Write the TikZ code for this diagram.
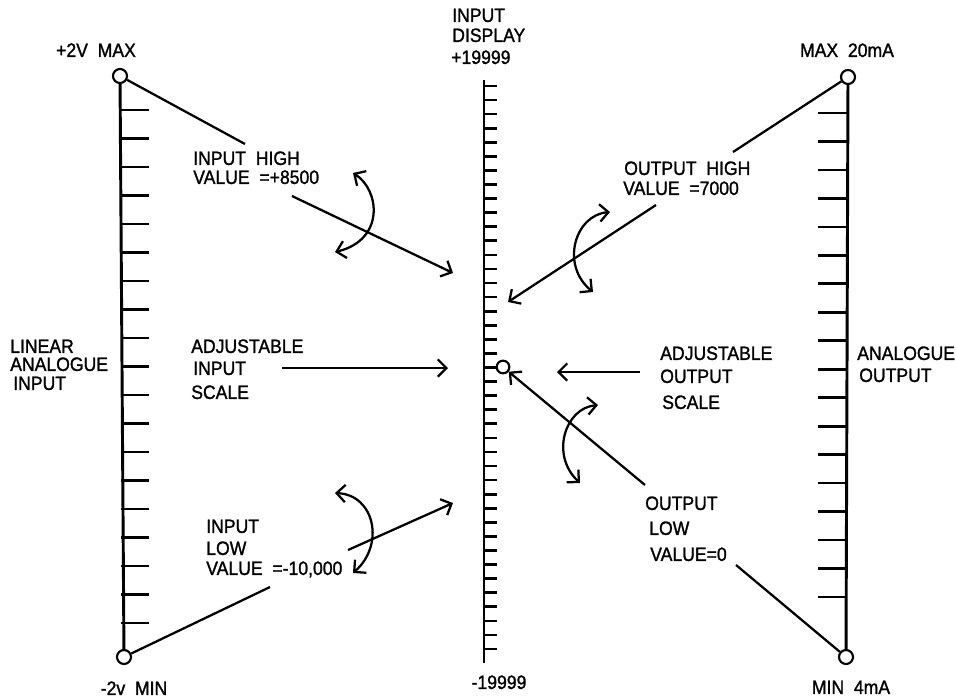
\documentclass[tikz,border=0pt]{standalone}
\usepackage{fontspec}
\setmainfont{Liberation Sans}[FakeStretch=0.91,FakeBold=1.3]
\usetikzlibrary{arrows.meta}
\begin{document}
\begin{tikzpicture}[x=0.75pt,y=-0.75pt,
  lbl/.style={inner sep=0pt,text height=10.4pt,text depth=0pt,font=\fontsize{14.5}{16}\selectfont},
  lw/.style={lbl,anchor=west},
  ring/.style={draw,circle,fill=white,line width=1.6pt,minimum size=10.5pt,inner sep=0pt},
  scaleline/.style={line width=2.2pt},
  tick/.style={line width=2pt},
  wire/.style={line width=1.7pt},
  arr/.style={wire,-{Straight Barb[length=6.5pt,width=13pt,line width=1.7pt]}},
  dblarr/.style={wire,{Straight Barb[length=6.5pt,width=13pt,line width=1.7pt]}-{Straight Barb[length=6.5pt,width=13pt,line width=1.7pt]}}
]
\useasboundingbox (0,0) rectangle (956,697);

% ---------- left scale ----------
\node[ring] (cL1) at (120,76) {};
\node[ring] (cL2) at (124,657) {};
\draw[scaleline] (cL1) -- (cL2);
\foreach \i in {0,...,18} \draw[tick] (121,110+28.5*\i) -- (149,110+28.5*\i);

% ---------- centre scale ----------
\coordinate (cTop) at (484,80);
\coordinate (cBot) at (484,663);
\draw[scaleline] (cTop) -- (cBot);
\foreach \i in {0,...,40} \draw[tick] (484,86+14.075*\i) -- (497,86+14.075*\i);
\node[ring,minimum size=9.5pt] (cC) at (503,367) {};

% ---------- right scale ----------
\node[ring] (cR1) at (848,77) {};
\node[ring] (cR2) at (846,657) {};
\draw[scaleline] (cR1) -- (cR2);
\foreach \i in {0,...,17} \draw[tick] (818,113+28.47*\i) -- (847,113+28.47*\i);

% ---------- labels ----------
\node[lbl] (lmax) at (96,50) {+2V\ \ MAX};
\node[lbl] (lmin) at (134,688) {-2v\ \ MIN};
\node[lw] (d1) at (452,15) {INPUT};
\node[lw] (d2) at (452,35) {DISPLAY};
\node[lw] (d3) at (451,57) {+19999};
\node[lbl] (dmin) at (499,682) {-19999};
\node[lbl] (rmax) at (847,50) {MAX\ \ 20mA};
\node[lbl] (rmin) at (851,687) {MIN\ \ 4mA};

\node[lw] (li1) at (10,346) {LINEAR};
\node[lw] (li2) at (10,364) {ANALOGUE};
\node[lw] (li3) at (13,383) {INPUT};

\node[lw] (ih1) at (193,158) {INPUT\ \ HIGH};
\node[lw] (ih2) at (193,177) {VALUE\ \ =+8500};

\node[lw] (ai1) at (191,346) {ADJUSTABLE};
\node[lw] (ai2) at (193,368) {INPUT};
\node[lw] (ai3) at (191,392) {SCALE};

\node[lw] (il1) at (206,526) {INPUT};
\node[lw] (il2) at (206,548) {LOW};
\node[lw] (il3) at (206,568) {VALUE\ \ =-10,000};

\node[lw] (oh1) at (624,168) {OUTPUT\ \ HIGH};
\node[lw] (oh2) at (623,188) {VALUE\ \ =7000};

\node[lw] (ao1) at (660,353) {ADJUSTABLE};
\node[lw] (ao2) at (660,376) {OUTPUT};
\node[lw] (ao3) at (662,402) {SCALE};

\node[lw] (an1) at (857,353) {ANALOGUE};
\node[lw] (an2) at (859,375) {OUTPUT};

\node[lw] (ol1) at (645,503) {OUTPUT};
\node[lw] (ol2) at (649,528) {LOW};
\node[lw] (ol3) at (650,554) {VALUE=0};

% ---------- connector end points ----------
\coordinate (ihA) at (245,144);
\coordinate (ihB) at (292,196);
\coordinate (ihT) at (453,273);
\coordinate (ilA) at (270,587);
\coordinate (ilB) at (348,550);
\coordinate (ilT) at (453,503);
\coordinate (ohA) at (733,152);
\coordinate (ohB) at (656,205);
\coordinate (ohT) at (508,302);
\coordinate (olA) at (736,565);
\coordinate (olB) at (645,485);
\coordinate (aiA) at (282,368);
\coordinate (aiT) at (448,368);
\coordinate (aoA) at (640,372);
\coordinate (aoT) at (557,372);

\draw[wire] (cL1) -- (ihA);
\draw[arr] (ihB) -- (ihT);
\draw[wire] (cL2) -- (ilA);
\draw[arr] (ilB) -- (ilT);
\draw[wire] (cR1) -- (ohA);
\draw[arr] (ohB) -- (ohT);
\draw[wire] (cR2) -- (olA);
\draw[arr] (olB) -- (cC);
\draw[arr] (aiA) -- (aiT);
\draw[arr] (aoA) -- (aoT);

% ---------- curved adjust arrows ----------
\coordinate (qA1) at (353,173); \coordinate (qA2) at (335,252);
\draw[dblarr] (qA1) .. controls (380,190) and (385,240) .. (qA2);
\coordinate (qB1) at (610,212); \coordinate (qB2) at (593,292);
\draw[dblarr] (qB1) .. controls (575,215) and (560,265) .. (qB2);
\coordinate (qC1) at (598,405); \coordinate (qC2) at (580,483);
\draw[dblarr] (qC1) .. controls (565,408) and (550,455) .. (qC2);
\coordinate (qD1) at (335,493); \coordinate (qD2) at (353,573);
\draw[dblarr] (qD1) .. controls (375,495) and (385,545) .. (qD2);
\end{tikzpicture}
\end{document}
